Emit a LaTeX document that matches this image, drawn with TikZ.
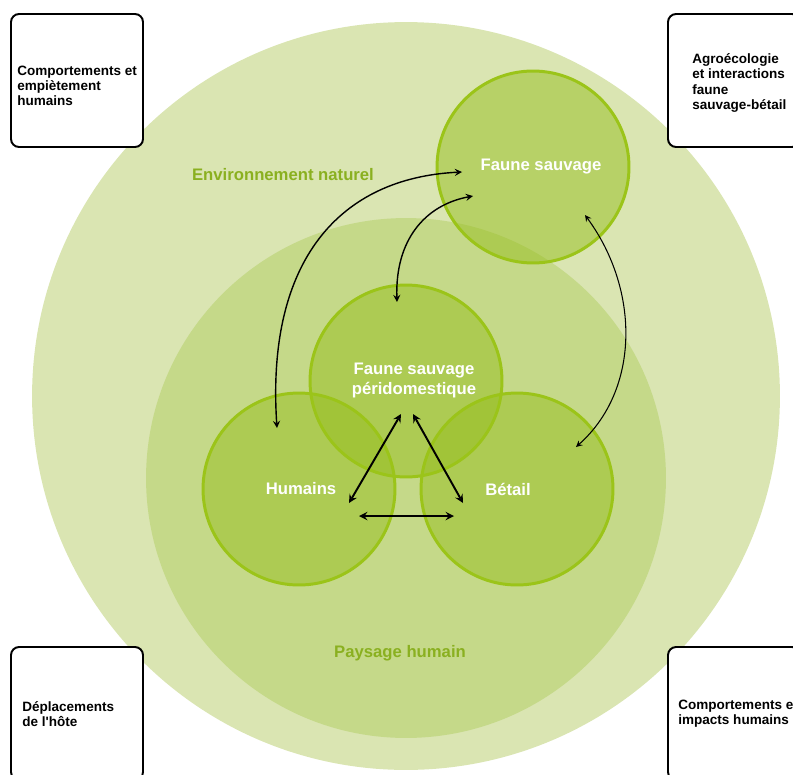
\documentclass[tikz,border=0pt]{standalone}
\usepackage{fontspec}
\setmainfont{Liberation Sans}
\usetikzlibrary{arrows}
\definecolor{envfill}{RGB}{218,229,178}
\definecolor{paysfill}{RGB}{197,217,137}
\definecolor{cercle}{RGB}{150,190,30}
\definecolor{bord}{RGB}{155,196,25}
\definecolor{vertlabel}{RGB}{138,176,32}
\tikzstyle{arrow} = [thick,<->,>=stealth]
\tikzstyle{arrowthin} = [semithick,<->,>=stealth]
\tikzstyle{hote} = [circle, fill=cercle, fill opacity=0.5, minimum size=3.84cm, inner sep=0pt]
\tikzstyle{boite} = [draw, rounded corners=0.16cm, line width=1.1pt, fill=white, minimum width=2.64cm, minimum height=2.66cm, inner sep=0pt]
\tikzstyle{etiquette} = [text=white, font=\bfseries\fontsize{9.5}{11.4}\selectfont, align=center]
\tikzstyle{zone} = [text=vertlabel, font=\bfseries\fontsize{9.5}{11.4}\selectfont]
\tikzstyle{boitetexte} = [anchor=west, align=left, font=\bfseries\fontsize{7.7}{8.6}\selectfont, inner sep=0pt]

\begin{document}
\begin{tikzpicture}[x=0.02cm,y=-0.02cm]
        \useasboundingbox (0,0) rectangle (793,774);
        \clip (0,0) rectangle (793,774);
        %zones
        \node[circle, fill=envfill, minimum size=14.96cm, inner sep=0pt] (env) at (406,396) {};
        \node[circle, fill=paysfill, minimum size=10.4cm, inner sep=0pt] (pays) at (406,478) {};
        \node[zone] (lenv) at (283,175) {Environnement naturel};
        \node[zone] (lpays) at (400,653) {Paysage humain};
        %hotes
        \node[hote] (fs) at (533,167) {};
        \node[hote] (peri) at (406,381) {};
        \node[hote] (hum) at (299,489) {};
        \node[hote] (bet) at (517,489) {};
        \foreach \n in {fs,peri,hum,bet}
            \draw[bord, line width=1.7pt] (\n.center) circle (1.92cm);
        \node[etiquette] (lfs) at (541,167) {Faune sauvage};
        \node[etiquette] (lperi) at (414,380) {Faune sauvage\\péridomestique};
        \node[etiquette] (lhum) at (301,489) {Humains};
        \node[etiquette] (lbet) at (508,489) {Bétail};
        %points des fleches
        \coordinate (hum1) at (277,428);
        \coordinate (fs1) at (462,172);
        \coordinate (peri1) at (397,302);
        \coordinate (fs2) at (473,196);
        \coordinate (fs3) at (585,215);
        \coordinate (bet1) at (576,447);
        \coordinate (hum2) at (349,503);
        \coordinate (peri2) at (401,414);
        \coordinate (peri3) at (413,414);
        \coordinate (bet2) at (463,503);
        \coordinate (hum3) at (359,516);
        \coordinate (bet3) at (454,516);
        %fleches courbes
        \draw[arrow] (hum1) .. controls (266,260) and (340,178) .. (fs1);
        \draw[arrow] (peri1) .. controls (395,240) and (425,205) .. (fs2);
        \draw[arrowthin] (fs3) .. controls (640,290) and (640,390) .. (bet1);
        %triangle
        \draw[arrow, line width=1.1pt] (hum2) -- (peri2);
        \draw[arrow, line width=1.1pt] (peri3) -- (bet2);
        \draw[arrow, line width=1.1pt] (hum3) -- (bet3);
        %boites
        \node[boite] (b1) at (77,80.5) {};
        \node[boite] (b2) at (734,80.5) {};
        \node[boite] (b3) at (77,713.5) {};
        \node[boite] (b4) at (734,713.5) {};
        \node[boitetexte] (t1) at (17,86) {Comportements et\\empiètement\\humains};
        \node[boitetexte] (t2) at (692,83) {Agroécologie\\et interactions\\faune\\sauvage-bétail};
        \node[boitetexte] (t3) at (22,714.5) {Déplacements\\de l\textquotesingle hôte};
        \node[boitetexte] (t4) at (678,714) {Comportements et\\impacts humains};
    \end{tikzpicture}
\end{document}
